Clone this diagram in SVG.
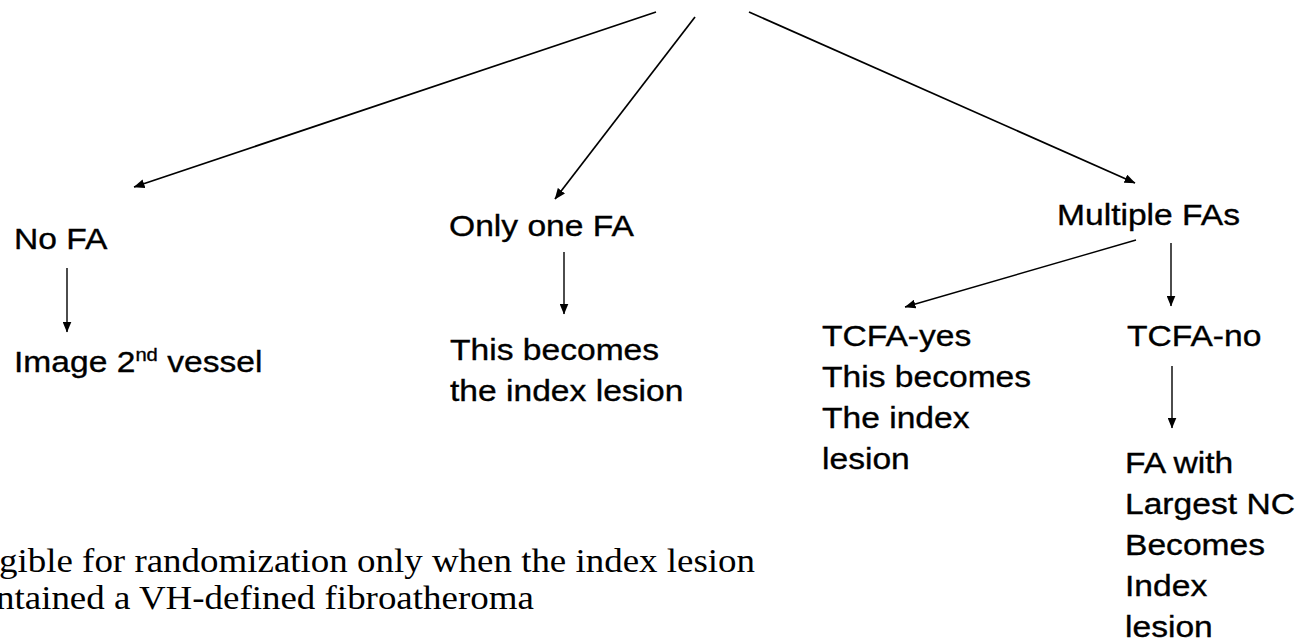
<svg xmlns="http://www.w3.org/2000/svg" width="1301" height="639" viewBox="0 0 1301 639">
<style>
.t{font-family:"Liberation Sans",Arial,sans-serif;font-size:30px;fill:#000;stroke:#000;stroke-width:0.35}
.s{font-family:"Liberation Serif","Times New Roman",serif;font-size:33px;fill:#000}
.c{stroke:#000;stroke-width:1.7;fill:none}
.c2{stroke:#000;stroke-width:1.4;fill:none}
</style>
<defs>
<marker id="ah" viewBox="0 0 11 9" refX="10.5" refY="4.5" markerWidth="11" markerHeight="9" markerUnits="userSpaceOnUse" orient="auto">
<path d="M0,0 L11,4.5 L0,9 Z" fill="#000"/>
</marker>
</defs>
<rect width="1301" height="639" fill="#fff"/>
<g id="connectors">
<line class="c" x1="656" y1="12" x2="134" y2="187" marker-end="url(#ah)"/>
<line class="c" x1="695" y1="17" x2="555" y2="199" marker-end="url(#ah)"/>
<line class="c" x1="749" y1="12" x2="1135" y2="183" marker-end="url(#ah)"/>
<line class="c2" x1="67" y1="268" x2="67" y2="332" marker-end="url(#ah)"/>
<line class="c2" x1="564" y1="252" x2="564" y2="314" marker-end="url(#ah)"/>
<line class="c2" x1="1136" y1="240" x2="905" y2="307" marker-end="url(#ah)"/>
<line class="c2" x1="1171" y1="243" x2="1171" y2="306" marker-end="url(#ah)"/>
<line class="c2" x1="1172" y1="366" x2="1172" y2="428" marker-end="url(#ah)"/>
</g>
<g id="node-nofa"><text class="t" transform="matrix(1.12 0 0 1 14 249)">No FA</text></g>
<g id="node-image2"><text class="t" transform="matrix(1.12 0 0 1 14 372)">Image 2<tspan font-size="18" dy="-11">nd</tspan><tspan dy="11"> vessel</tspan></text></g>
<g id="node-onefa"><text class="t" transform="matrix(1.12 0 0 1 449 236)">Only one FA</text></g>
<g id="node-onefa-result"><text class="t" transform="matrix(1.12 0 0 1 450 360)">This becomes</text><text class="t" transform="matrix(1.12 0 0 1 450 401)">the index lesion</text></g>
<g id="node-multiple"><text class="t" transform="matrix(1.12 0 0 1 1057 225)">Multiple FAs</text></g>
<g id="node-tcfa-yes"><text class="t" transform="matrix(1.12 0 0 1 822 346)">TCFA-yes</text><text class="t" transform="matrix(1.12 0 0 1 822 387)">This becomes</text><text class="t" transform="matrix(1.12 0 0 1 822 428)">The index</text><text class="t" transform="matrix(1.12 0 0 1 822 469)">lesion</text></g>
<g id="node-tcfa-no"><text class="t" transform="matrix(1.12 0 0 1 1127 346)">TCFA-no</text></g>
<g id="node-largest"><text class="t" transform="matrix(1.12 0 0 1 1125 473)">FA with</text><text class="t" transform="matrix(1.12 0 0 1 1125 514)">Largest NC</text><text class="t" transform="matrix(1.12 0 0 1 1125 555)">Becomes</text><text class="t" transform="matrix(1.12 0 0 1 1125 596)">Index</text><text class="t" transform="matrix(1.12 0 0 1 1125 637)">lesion</text></g>
<g id="note"><text class="s" transform="matrix(1.12 0 0 1 -1 572)">gible for randomization only when the index lesion</text><text class="s" transform="matrix(1.12 0 0 1 -4 609)">ntained a VH-defined fibroatheroma</text></g>
</svg>
